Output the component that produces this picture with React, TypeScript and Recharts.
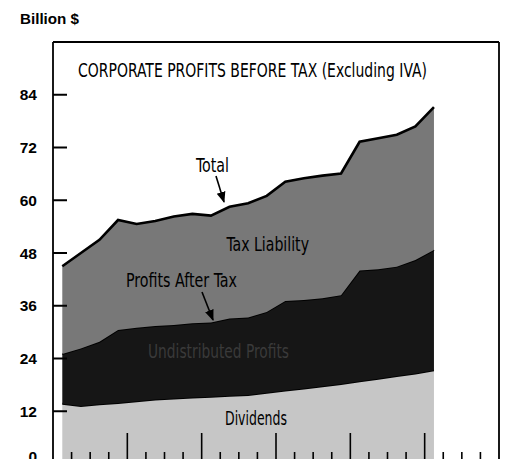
import React from "react";
import { AreaChart, Area, XAxis, YAxis, ReferenceLine } from "recharts";

const quarters = [
  "1961 Q1", "1961 Q2", "1961 Q3", "1961 Q4",
  "1962 Q1", "1962 Q2", "1962 Q3", "1962 Q4",
  "1963 Q1", "1963 Q2", "1963 Q3", "1963 Q4",
  "1964 Q1", "1964 Q2", "1964 Q3", "1964 Q4",
  "1965 Q1", "1965 Q2", "1965 Q3", "1965 Q4",
  "1966 Q1",
];
const dividends = [13.7, 13.2, 13.6, 13.9, 14.3, 14.7, 14.9, 15.1, 15.3, 15.5, 15.7, 16.2, 16.7, 17.2, 17.7, 18.2, 18.8, 19.4, 20.0, 20.6, 21.3];
const undistributed = [11.3, 13.1, 14.2, 16.6, 16.7, 16.7, 16.7, 16.9, 16.9, 17.6, 17.6, 18.4, 20.4, 20.1, 20.0, 20.2, 25.2, 24.9, 24.9, 25.8, 27.4];
const taxLiability = [20.0, 21.7, 23.2, 25.0, 23.6, 23.9, 24.7, 24.9, 24.3, 25.4, 26.0, 26.4, 27.1, 27.7, 27.9, 27.7, 29.3, 29.8, 30.0, 30.4, 32.5];

const yTicks = [0, 12, 24, 36, 48, 60, 72, 84];
const xTicks = [0, 1, 2, 3, 4, 5, 6, 7, 8, 9, 10, 11, 12, 13, 14, 15, 16, 17, 18, 19, 20, 21, 22, 23, 24];

const data = quarters.map((q, i) => ({
  quarter: q,
  x: i + 0.5,
  dividends: dividends[i],
  undistributed: undistributed[i],
  tax: taxLiability[i],
}));

const narrow = "'Liberation Sans Narrow', 'DejaVu Sans Condensed', 'Liberation Sans', Arial, sans-serif";
const boldFont = "'Liberation Sans', Arial, sans-serif";

const LeftTick = (props: any) => {
  const { x, y, payload } = props;
  const v = payload.value;
  const ax = x + 16;
  const dy = v === 0 ? -2 : 5.5;
  return (
    <g>
      <line x1={ax} x2={ax + 14} y1={y} y2={y} stroke="#000" strokeWidth={2} />
      <text x={x} y={y + dy} textAnchor="end" fontFamily={boldFont} fontWeight="bold" fontSize={15.5} fill="#000">
        {v}
      </text>
    </g>
  );
};

const RightTick = (props: any) => {
  const { x, y } = props;
  return <line x1={x - 14} x2={x} y1={y} y2={y} stroke="#000" strokeWidth={2} />;
};

const BottomTick = (props: any) => {
  const { x, y, payload } = props;
  const v = payload.value;
  if (v === 0 || v === 24) return <g />;
  const len = v % 4 === 0 ? 31 : 12;
  return <line x1={x} x2={x} y1={y} y2={y - len} stroke="#000" strokeWidth={1.6} />;
};

const Lbl = ({ x, y, w, children, size = 19, fill = "#000", bold = false, font = narrow }: any) => (
  <text
    x={x}
    y={y}
    fontFamily={font}
    fontSize={size}
    fontWeight={bold ? "bold" : "normal"}
    fill={fill}
    textLength={w}
    lengthAdjust="spacingAndGlyphs"
  >
    {children}
  </text>
);

export default function App() {
  return (
    <div style={{ position: "absolute", left: 0, top: 0, width: 508, height: 470, background: "#fff" }}>
      <AreaChart
        width={508}
        height={470}
        data={data}
        margin={{ top: 42, right: 8, bottom: 0, left: 8 }}
      >
        <Area
          type="linear"
          dataKey="dividends"
          stackId="1"
          fill="#c6c6c6"
          fillOpacity={1}
          stroke="#000"
          strokeWidth={2}
          isAnimationActive={false}
        />
        <Area
          type="linear"
          dataKey="undistributed"
          stackId="1"
          fill="#161616"
          fillOpacity={1}
          stroke="#000"
          strokeWidth={2}
          isAnimationActive={false}
        />
        <Area
          type="linear"
          dataKey="tax"
          stackId="1"
          fill="#787878"
          fillOpacity={1}
          stroke="#000"
          strokeWidth={2.6}
          isAnimationActive={false}
        />
        <XAxis
          dataKey="x"
          type="number"
          domain={[0, 24]}
          ticks={xTicks}
          interval={0}
          height={6}
          tickSize={0}
          tickMargin={0}
          axisLine={{ stroke: "#000", strokeWidth: 2 }}
          tick={<BottomTick />}
        />
        <YAxis
          type="number"
          domain={[0, 96]}
          ticks={yTicks}
          interval={0}
          width={45}
          tickSize={0}
          tickMargin={16}
          tickLine={false}
          axisLine={{ stroke: "#000", strokeWidth: 1.8 }}
          tick={<LeftTick />}
        />
        <YAxis
          yAxisId="r"
          orientation="right"
          type="number"
          domain={[0, 96]}
          ticks={yTicks}
          interval={0}
          width={1}
          tickSize={0}
          tickMargin={0}
          tickLine={false}
          axisLine={{ stroke: "#000", strokeWidth: 1.8 }}
          tick={<RightTick />}
        />
        <ReferenceLine y={96} stroke="#000" strokeWidth={2} />
      </AreaChart>
      <svg
        width={508}
        height={470}
        style={{ position: "absolute", left: 0, top: 0, pointerEvents: "none" }}
      >
        <defs>
          <marker id="ah" viewBox="0 0 10 10" refX="9" refY="5" markerWidth="7" markerHeight="7" orient="auto">
            <path d="M0,1 L10,5 L0,9 Z" fill="#000" />
          </marker>
        </defs>
        <Lbl x={20} y={24} w={59} size={15} bold font={boldFont}>Billion $</Lbl>
        <Lbl x={78} y={77} w={349} size={19.5}>CORPORATE PROFITS BEFORE TAX (Excluding IVA)</Lbl>
        <Lbl x={196} y={171.5} w={33}>Total</Lbl>
        <line x1={216} y1={176} x2={224} y2={202} stroke="#000" strokeWidth={1.6} markerEnd="url(#ah)" />
        <Lbl x={226.5} y={251} w={82.5}>Tax Liability</Lbl>
        <Lbl x={126} y={286.5} w={111}>Profits After Tax</Lbl>
        <line x1={202} y1={292} x2={213} y2={320} stroke="#000" strokeWidth={1.6} markerEnd="url(#ah)" />
        <Lbl x={148} y={358} w={141} fill="#3a3a3a">Undistributed Profits</Lbl>
        <Lbl x={225} y={425} w={62}>Dividends</Lbl>
      </svg>
    </div>
  );
}
